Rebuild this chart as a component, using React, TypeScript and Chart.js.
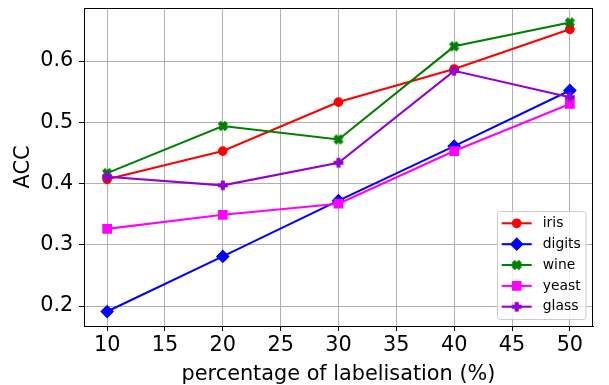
import React, { useEffect, useRef } from 'react';
import { Chart, registerables } from 'chart.js';

Chart.register(...registerables);

// ---- data ----
const xValues = [10, 20, 30, 40, 50];
const iris = [0.407, 0.453, 0.533, 0.587, 0.652];
const digits = [0.191, 0.281, 0.372, 0.461, 0.552];
const wine = [0.417, 0.494, 0.472, 0.624, 0.663];
const yeast = [0.326, 0.349, 0.367, 0.453, 0.530];
const glass = [0.411, 0.397, 0.434, 0.584, 0.541];
const seriesLabels = ['iris', 'digits', 'wine', 'yeast', 'glass'];
const xTitle = 'percentage of labelisation (%)';
const yTitle = 'ACC';

const FONT = 'DejaVu Sans';
const MS = 8.33; // marker size px
const EW = 1.39; // marker edge width

function makeMarker(kind: 'X' | 'P', color: string): HTMLCanvasElement {
  const size = 14;
  const c = document.createElement('canvas');
  c.width = size;
  c.height = size;
  const ctx = c.getContext('2d')!;
  const raw =
    kind === 'X'
      ? [[-1, -2], [0, -1], [1, -2], [2, -1], [1, 0], [2, 1], [1, 2], [0, 1], [-1, 2], [-2, 1], [-1, 0], [-2, -1]].map(([a, b]) => [a / 4, b / 4])
      : [[-1, -3], [1, -3], [1, -1], [3, -1], [3, 1], [1, 1], [1, 3], [-1, 3], [-1, 1], [-3, 1], [-3, -1], [-1, -1]].map(([a, b]) => [a / 6, b / 6]);
  ctx.beginPath();
  raw.forEach(([a, b], i) => {
    const x = size / 2 + a * MS;
    const y = size / 2 + b * MS;
    if (i) ctx.lineTo(x, y);
    else ctx.moveTo(x, y);
  });
  ctx.closePath();
  ctx.fillStyle = color;
  ctx.fill();
  ctx.strokeStyle = color;
  ctx.lineWidth = EW;
  ctx.lineJoin = 'miter';
  ctx.stroke();
  return c;
}

type Spec = { color: string; style: any; radius: number };

function drawMarker(ctx: CanvasRenderingContext2D, spec: Spec, x: number, y: number) {
  ctx.save();
  ctx.fillStyle = spec.color;
  ctx.strokeStyle = spec.color;
  ctx.lineWidth = EW;
  if (spec.style === 'circle') {
    ctx.beginPath();
    ctx.arc(x, y, spec.radius, 0, Math.PI * 2);
    ctx.fill();
    ctx.stroke();
  } else if (spec.style === 'rectRot') {
    const r = spec.radius;
    ctx.beginPath();
    ctx.moveTo(x - r, y);
    ctx.lineTo(x, y - r);
    ctx.lineTo(x + r, y);
    ctx.lineTo(x, y + r);
    ctx.closePath();
    ctx.fill();
    ctx.stroke();
  } else if (spec.style === 'rect') {
    const h = spec.radius * Math.SQRT1_2;
    ctx.beginPath();
    ctx.rect(x - h, y - h, 2 * h, 2 * h);
    ctx.fill();
    ctx.stroke();
  } else {
    const img = spec.style as HTMLCanvasElement;
    ctx.drawImage(img, x - img.width / 2, y - img.height / 2);
  }
  ctx.restore();
}

export default function App() {
  const ref = useRef<HTMLCanvasElement>(null);

  useEffect(() => {
    document.body.style.margin = '0';
    const canvas = ref.current!;
    const specs: Spec[] = [
      { color: '#ff0000', style: 'circle', radius: 4.17 },
      { color: '#0000ff', style: 'rectRot', radius: 5.89 },
      { color: '#008000', style: makeMarker('X', '#008000'), radius: 5 },
      { color: '#ff00ff', style: 'rect', radius: 5.89 },
      { color: '#9400d3', style: makeMarker('P', '#9400d3'), radius: 5 },
    ];
    const values = [iris, digits, wine, yeast, glass];

    const datasets = values.map((vals, i) => ({
      label: seriesLabels[i],
      data: xValues.map((x, j) => ({ x, y: vals[j] })),
      borderColor: specs[i].color,
      backgroundColor: specs[i].color,
      borderWidth: 2.08,
      pointStyle: specs[i].style,
      pointRadius: specs[i].radius,
      pointHoverRadius: specs[i].radius,
      pointBorderWidth: EW,
      pointBackgroundColor: specs[i].color,
      pointBorderColor: specs[i].color,
      tension: 0,
      fill: false,
      order: 5 - i,
    }));

    const framePlugin = {
      id: 'frame',
      afterDatasetsDraw(chart: any) {
        const { ctx, chartArea: a } = chart;
        ctx.save();
        ctx.strokeStyle = '#000';
        ctx.lineWidth = 1;
        ctx.strokeRect(Math.round(a.left) + 0.5, Math.round(a.top) + 0.5, Math.round(a.right - a.left) - 1, Math.round(a.bottom - a.top));
        ctx.restore();
      },
    };

    const legendPlugin = {
      id: 'mplLegend',
      afterDraw(chart: any) {
        const ctx: CanvasRenderingContext2D = chart.ctx;
        const bx = 497.5, by = 211.5, bw = 88.5, bh = 108;
        ctx.save();
        ctx.beginPath();
        const r = 2.8;
        ctx.moveTo(bx + r, by);
        ctx.lineTo(bx + bw - r, by);
        ctx.arcTo(bx + bw, by, bx + bw, by + r, r);
        ctx.lineTo(bx + bw, by + bh - r);
        ctx.arcTo(bx + bw, by + bh, bx + bw - r, by + bh, r);
        ctx.lineTo(bx + r, by + bh);
        ctx.arcTo(bx, by + bh, bx, by + bh - r, r);
        ctx.lineTo(bx, by + r);
        ctx.arcTo(bx, by, bx + r, by, r);
        ctx.closePath();
        ctx.fillStyle = 'rgba(255,255,255,0.8)';
        ctx.fill();
        ctx.strokeStyle = '#cccccc';
        ctx.lineWidth = 1;
        ctx.stroke();
        const rows = [223.3, 244.2, 265.0, 285.9, 306.7];
        seriesLabels.forEach((lab, i) => {
          const y = rows[i];
          ctx.beginPath();
          ctx.moveTo(501.7, y);
          ctx.lineTo(531.7, y);
          ctx.strokeStyle = specs[i].color;
          ctx.lineWidth = 2.08;
          ctx.stroke();
          drawMarker(ctx, specs[i], 516.7, y);
          ctx.fillStyle = '#000';
          ctx.font = `13.9px "${FONT}"`;
          ctx.textBaseline = 'middle';
          ctx.textAlign = 'left';
          ctx.fillText(lab, 542.7, y);
        });
        ctx.restore();
      },
    };

    const chart = new Chart(canvas, {
      type: 'line',
      data: { datasets: datasets as any },
      options: {
        animation: false,
        responsive: false,
        devicePixelRatio: 1,
        events: [],
        layout: { padding: { top: 8, right: 16, bottom: 0, left: 0 } },
        plugins: {
          legend: { display: false },
          tooltip: { enabled: false },
        },
        scales: {
          x: {
            type: 'linear',
            position: 'bottom',
            min: 8,
            max: 52,
            ticks: {
              stepSize: 5,
              includeBounds: false,
              autoSkip: false,
              maxRotation: 0,
              color: '#000',
              padding: 2.5,
              font: { family: FONT, size: 20.8 },
              callback: (v: any) => String(v),
            },
            grid: { color: '#b0b0b0', lineWidth: 1, tickLength: 5, tickColor: '#000', tickWidth: 1 },
            border: { display: true, color: '#000', width: 1 },
            title: {
              display: true,
              text: xTitle,
              color: '#000',
              font: { family: FONT, size: 20.8, lineHeight: 1 },
              padding: { top: 0, bottom: 0 },
            },
            afterFit: (s: any) => {
              s.height = 59;
              s.paddingLeft = 0;
              s.paddingRight = 0;
            },
          },
          y: {
            type: 'linear',
            min: 0.1674,
            max: 0.6866,
            ticks: {
              stepSize: 0.1,
              includeBounds: false,
              color: '#000',
              padding: 5.7,
              font: { family: FONT, size: 20.8 },
              callback: (v: any) => Number(v).toFixed(1),
            },
            grid: { color: '#b0b0b0', lineWidth: 1, tickLength: 5, tickColor: '#000', tickWidth: 1 },
            border: { display: true, color: '#000', width: 1 },
            title: {
              display: true,
              text: yTitle,
              color: '#000',
              font: { family: FONT, size: 20.8, lineHeight: 1 },
              padding: { top: 13.6, bottom: 0 },
            },
            afterFit: (s: any) => {
              s.width = 84;
              s.paddingTop = 0;
              s.paddingBottom = 0;
            },
          },
        },
      },
      plugins: [framePlugin, legendPlugin],
    });
    return () => chart.destroy();
  }, []);

  return (
    <div style={{ width: 609, height: 385, overflow: 'hidden', background: '#fff' }}>
      <canvas ref={ref} width={609} height={385} style={{ display: 'block' }} />
    </div>
  );
}
